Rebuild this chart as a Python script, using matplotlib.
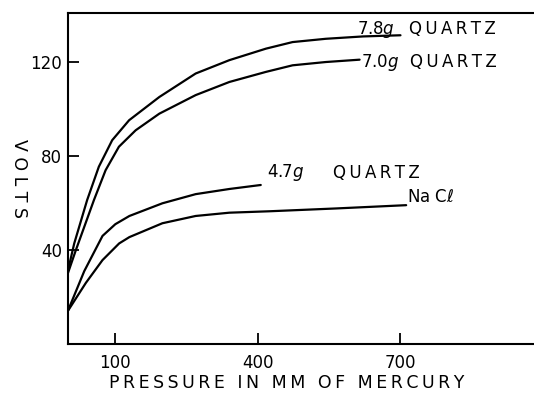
import matplotlib.pyplot as plt

# values (pressure in mm Hg, volts)
p_78 = [0, 13.5, 40.7, 65.3, 93.4, 129, 192.6, 269, 340, 417, 473, 543, 621, 700]
v_78 = [31, 42.8, 61.3, 75.5, 86.8, 95.3, 105.2, 115.2, 120.9, 125.8, 128.6, 130, 131, 131.5]

p_70 = [0, 17, 55, 79.5, 107.5, 142.7, 192.6, 269, 340, 417, 473, 543, 614]
v_70 = [30, 40, 61.3, 74, 84, 91, 98.1, 106, 111.6, 115.9, 118.7, 120.1, 121.1]

p_47 = [0, 34.6, 73, 100, 129.6, 199, 269, 340, 406]
v_47 = [14, 31, 46, 51, 54.5, 59.9, 63.8, 66, 67.7]

p_nacl = [0, 38, 73, 108, 129.6, 199, 269, 340, 424, 564, 712]
v_nacl = [14, 26, 35.7, 42.8, 45.5, 51.4, 54.5, 55.9, 56.5, 57.7, 59.1]

xticks = [100, 400, 700]
yticks = [40, 80, 120]

plt.rcParams['font.family'] = ['DejaVu Sans']


def spaced(s):
    # hand lettering on the original is widely spaced
    return '\u2009'.join(s)


fig = plt.figure(figsize=(5.34, 3.93), dpi=100)
ax = fig.add_axes([0.127, 0.125, 0.873, 0.842])

for p, v in [(p_78, v_78), (p_70, v_70), (p_47, v_47), (p_nacl, v_nacl)]:
    ax.plot(p, v, color='black', lw=1.6, solid_capstyle='round', solid_joinstyle='round')

# curve labels
fs = 12
ax.text(608, 134, '7.8$g$', fontsize=fs, va='center', ha='left')
ax.text(717, 134, spaced('QUARTZ'), fontsize=fs, va='center', ha='left')
ax.text(617, 120, '7.0$g$', fontsize=fs, va='center', ha='left')
ax.text(720, 120, spaced('QUARTZ'), fontsize=fs, va='center', ha='left')
ax.text(420, 73, '4.7$g$', fontsize=fs, va='center', ha='left')
ax.text(557, 73, spaced('QUARTZ'), fontsize=fs, va='center', ha='left')
ax.text(713, 62.5, 'Na C$\\ell$', fontsize=fs, va='center', ha='left')

ax.set_xlim(0, 981)
ax.set_ylim(0, 141)
ax.set_xticks(xticks)
ax.set_yticks(yticks)
ax.tick_params(axis='x', direction='in', length=8, width=1.3, pad=7, labelsize=12)
ax.tick_params(axis='y', direction='in', length=8, width=1.3, pad=4, labelsize=12)

ax.spines['right'].set_visible(False)
for s in ['left', 'bottom', 'top']:
    ax.spines[s].set_linewidth(1.5)

ax.set_xlabel(spaced('PRESSURE IN MM OF MERCURY'), fontsize=12.5)
ax.xaxis.set_label_coords(0.47, -0.092)
ax.set_ylabel('V O L T S', fontsize=12.5, rotation=270, va='center')
ax.yaxis.set_label_coords(-0.105, 0.5)

plt.savefig('out.png', dpi=100)
